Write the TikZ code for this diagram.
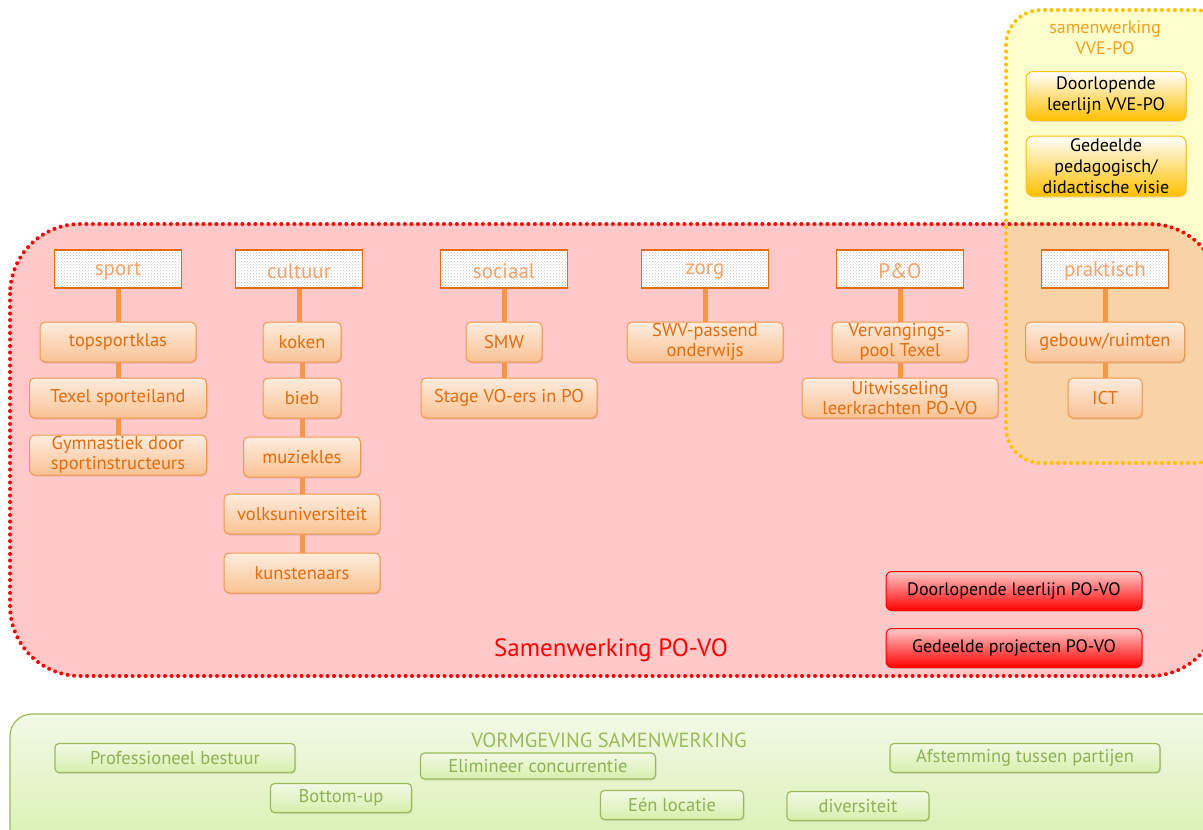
\documentclass[tikz,border=0pt]{standalone}
\usepackage{fontspec}
\setmainfont{PT Sans}
\usetikzlibrary{patterns,shadows}
\definecolor{povo}{HTML}{FF0000}
\definecolor{pinkfill}{HTML}{FFC9C9}
\definecolor{vvefill}{HTML}{FFFFCC}
\definecolor{overlap}{HTML}{F9D2A6}
\definecolor{gold}{HTML}{FFC000}
\definecolor{vvetext}{HTML}{F59E1B}
\definecolor{oranje}{HTML}{F79646}
\definecolor{oranjetext}{HTML}{E46C0A}
\definecolor{cattext}{HTML}{F4A46A}
\definecolor{groen}{HTML}{9BBB59}
\definecolor{groentext}{HTML}{8DB254}
\definecolor{groenlicht}{HTML}{F2F9E6}
\definecolor{groendonker}{HTML}{D6F0AC}

\begin{document}
\begin{tikzpicture}[x=1pt,y=-1pt,
    cat/.style={draw=oranjetext, line width=1.5pt, preaction={fill=white}, pattern=crosshatch dots, pattern color=gray!45,
        minimum width=127pt, minimum height=38pt},
    catlabel/.style={minimum width=127pt, minimum height=38pt, yshift=-2pt, text=cattext, font=\fontsize{21}{23}\selectfont},
    item/.style={draw=oranje, line width=1pt, rounded corners=5pt, top color=oranje!18, bottom color=oranje!58,
        drop shadow={opacity=0.25,shadow xshift=1pt,shadow yshift=-1.5pt},
        minimum height=40pt, inner sep=1pt, align=center, text=oranjetext, font=\fontsize{18.5}{20}\selectfont},
    vve/.style={draw=gold, line width=1pt, rounded corners=7pt, top color=white, bottom color=gold,
        drop shadow={opacity=0.25,shadow xshift=1pt,shadow yshift=-1.5pt},
        minimum width=160pt, inner sep=1pt, align=center, font=\fontsize{18}{21}\selectfont},
    rood/.style={draw=povo, line width=1pt, rounded corners=6pt, top color=pinkfill, bottom color=povo,
        drop shadow={opacity=0.25,shadow xshift=1pt,shadow yshift=-1.5pt},
        minimum width=256pt, minimum height=39pt, font=\fontsize{18}{20}\selectfont},
    vorm/.style={draw=groen, line width=1.2pt, rounded corners=4pt, top color=groenlicht, bottom color=groendonker,
        drop shadow={opacity=0.2,shadow xshift=1pt,shadow yshift=-1.5pt},
        minimum height=29pt, inner sep=1pt, text=groentext, font=\fontsize{18.5}{20}\selectfont},
    link/.style={draw=oranje, line width=5pt}]
\useasboundingbox (0,0) rectangle (1203,830);

% achtergrondvlakken
\fill[vvefill, rounded corners=35pt] (1006,10) rectangle (1230,463);
\fill[pinkfill, rounded corners=70pt] (10,224) rectangle (1220,676);
\begin{scope}
  \clip[rounded corners=35pt] (1006,10) rectangle (1230,463);
  \fill[overlap, rounded corners=70pt] (10,224) rectangle (1220,676);
\end{scope}
\draw[gold, line width=4pt, line cap=round, dash pattern=on 0pt off 6.5pt, rounded corners=35pt] (1006,10) rectangle (1230,463);
\draw[povo, line width=4pt, line cap=round, dash pattern=on 0pt off 6.5pt, rounded corners=70pt] (10,224) rectangle (1220,676);
\shade[draw=groen, line width=1.2pt, rounded corners=22pt, top color=groenlicht, bottom color=groendonker] (10,714) rectangle (1230,860);

% categorieen
\node[cat] (sport) at (118,269) {};
\node[catlabel] at (sport) {sport};
\node[cat] (cultuur) at (299,269) {};
\node[catlabel] at (cultuur) {cultuur};
\node[cat] (sociaal) at (504,269) {};
\node[catlabel] at (sociaal) {sociaal};
\node[cat] (zorg) at (705,269) {};
\node[catlabel] at (zorg) {zorg};
\node[cat] (peno) at (900,269) {};
\node[catlabel] at (peno) {P\&O};
\node[cat] (praktisch) at (1105,269) {};
\node[catlabel] at (praktisch) {praktisch};

% sport
\node[item, minimum width=156pt] (topsport) at (118,342) {topsportklas};
\node[item, minimum width=177pt] (texel) at (118,398) {Texel sporteiland};
\node[item, minimum width=177pt] (gym) at (118,455) {Gymnastiek door\\sportinstructeurs};
% cultuur
\node[item, minimum width=78pt] (koken) at (302,342) {koken};
\node[item, minimum width=78pt] (bieb) at (302,398) {bieb};
\node[item, minimum width=117pt] (muziek) at (302,457) {muziekles};
\node[item, minimum width=156pt] (volks) at (302,514) {volksuniversiteit};
\node[item, minimum width=156pt] (kunst) at (302,573) {kunstenaars};
% sociaal
\node[item, minimum width=76pt] (smw) at (504,342) {SMW};
\node[item, minimum width=176pt] (stage) at (509,398) {Stage VO-ers in PO};
% zorg
\node[item, minimum width=156pt] (swv) at (705,342) {SWV-passend\\onderwijs};
% P&O
\node[item, minimum width=136pt] (vervang) at (900,342) {Vervangings-\\pool Texel};
\node[item, minimum width=196pt] (uitwissel) at (900,398) {Uitwisseling\\leerkrachten PO-VO};
% praktisch
\node[item, minimum width=159pt] (gebouw) at (1105,342) {gebouw/ruimten};
\node[item, minimum width=74pt] (ict) at (1105,398) {ICT};

\foreach \a/\b in {sport/topsport, topsport/texel, texel/gym,
    cultuur/koken, koken/bieb, bieb/muziek, muziek/volks, volks/kunst,
    sociaal/smw, smw/stage, zorg/swv, peno/vervang, vervang/uitwissel,
    praktisch/gebouw, gebouw/ict}
  \draw[link] (\a.south) -- (\a.south |- \b.north);

% samenwerking VVE-PO
\node[text=vvetext, align=center, font=\fontsize{18}{21}\selectfont] (vvetitel) at (1105,38) {samenwerking\\VVE-PO};
\node[vve, minimum height=49pt] (leerlijnvve) at (1106,96) {Doorlopende\\leerlijn VVE-PO};
\node[vve, minimum height=60pt] (visie) at (1106,166) {Gedeelde\\pedagogisch/\\didactische visie};

% samenwerking PO-VO
\node[rood] (leerlijnpovo) at (1014,591) {Doorlopende leerlijn PO-VO};
\node[rood] (projecten) at (1014,648) {Gedeelde projecten PO-VO};
\node[text=povo, font=\fontsize{25}{27}\selectfont] (povotitel) at (611,650) {Samenwerking PO-VO};

% vormgeving
\node[text=groen, font=\fontsize{20.5}{22}\selectfont] (vormtitel) at (609,740) {VORMGEVING SAMENWERKING};
\node[vorm, minimum width=240pt] (bestuur) at (175,758) {Professioneel bestuur};
\node[vorm, minimum width=141pt] (bottomup) at (341,798) {Bottom-up};
\node[vorm, minimum width=235pt, minimum height=26pt] (concurrentie) at (538,766) {Elimineer concurrentie};
\node[vorm, minimum width=143pt] (locatie) at (672,805) {Eén locatie};
\node[vorm, minimum width=142pt] (diversiteit) at (858,806) {diversiteit};
\node[vorm, minimum width=270pt] (afstemming) at (1025,758) {Afstemming tussen partijen};
\end{tikzpicture}
\end{document}
